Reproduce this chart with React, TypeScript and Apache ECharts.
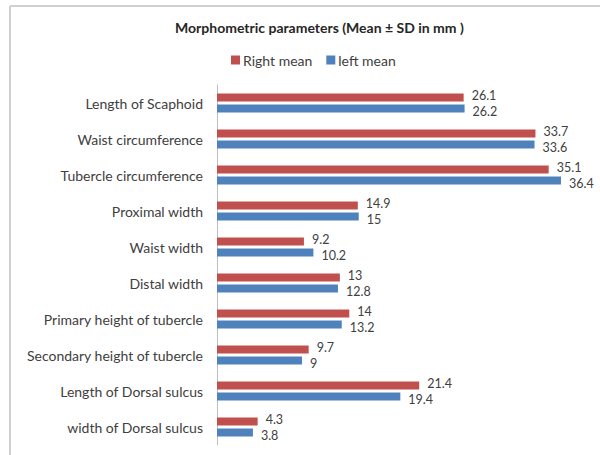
import React, { useEffect, useRef } from "react";
import * as echarts from "echarts";

const categories = [
  "Length of Scaphoid",
  "Waist circumference",
  "Tubercle circumference",
  "Proximal width",
  "Waist width",
  "Distal width",
  "Primary height of tubercle",
  "Secondary height of tubercle",
  "Length of Dorsal sulcus",
  "width of Dorsal sulcus",
];
const rightMean = [26.1, 33.7, 35.1, 14.9, 9.2, 13, 14, 9.7, 21.4, 4.3];
const leftMean = [26.2, 33.6, 36.4, 15, 10.2, 12.8, 13.2, 9, 19.4, 3.8];

const FONT = "Lato, 'Open Sans', sans-serif";

export default function App() {
  const ref = useRef<HTMLDivElement>(null);
  useEffect(() => {
    if (!ref.current) return;
    const chart = echarts.init(ref.current, null, { renderer: "svg" });
    chart.setOption({
      animation: false,
      backgroundColor: "#ffffff",
      title: {
        text: "Morphometric parameters (Mean ± SD in mm )",
        left: 170,
        top: 15,
        textStyle: { fontFamily: FONT, fontSize: 14, fontWeight: "bold", color: "#262626" },
      },
      legend: {
        top: 48,
        left: 226,
        itemWidth: 9,
        itemHeight: 9,
        itemGap: 14,
        icon: "rect",
        textStyle: { fontFamily: FONT, fontSize: 14, color: "#404040", padding: [0, 0, 0, -2] },
        data: ["Right mean", "left mean"],
      },
      graphic: [
        { type: "line", shape: { x1: 10, y1: 6, x2: 600, y2: 6 }, style: { stroke: "#d0d0d0", lineWidth: 2 } },
        { type: "line", shape: { x1: 10, y1: 6, x2: 10, y2: 455 }, style: { stroke: "#d0d0d0", lineWidth: 2 } },
      ],
      grid: { left: 217, right: 5, top: 85, bottom: 10, containLabel: false },
      xAxis: {
        type: "value",
        min: 0,
        max: 40,
        show: false,
      },
      yAxis: {
        type: "category",
        inverse: true,
        data: categories,
        axisLine: { show: true, lineStyle: { color: "#bfbfbf" } },
        axisTick: { show: false },
        axisLabel: { fontFamily: FONT, fontSize: 14, color: "#404040", margin: 14 },
      },
      series: [
        {
          name: "Right mean",
          type: "bar",
          data: rightMean,
          barWidth: 8,
          barGap: "40%",
          itemStyle: { color: "#C0504D" },
          label: {
            show: true,
            position: "right",
            distance: 8,
            offset: [0, -2],
            fontFamily: FONT,
            fontSize: 12.5,
            lineHeight: 12,
            color: "#404040",
          },
        },
        {
          name: "left mean",
          type: "bar",
          data: leftMean,
          barWidth: 8,
          itemStyle: { color: "#4F81BD" },
          label: {
            show: true,
            position: "right",
            distance: 8,
            offset: [0, 3],
            fontFamily: FONT,
            fontSize: 12.5,
            lineHeight: 12,
            color: "#404040",
          },
        },
      ],
    });
    return () => chart.dispose();
  }, []);
  return <div ref={ref} style={{ width: 600, height: 455, position: "absolute", left: 0, top: 0 }} />;
}
